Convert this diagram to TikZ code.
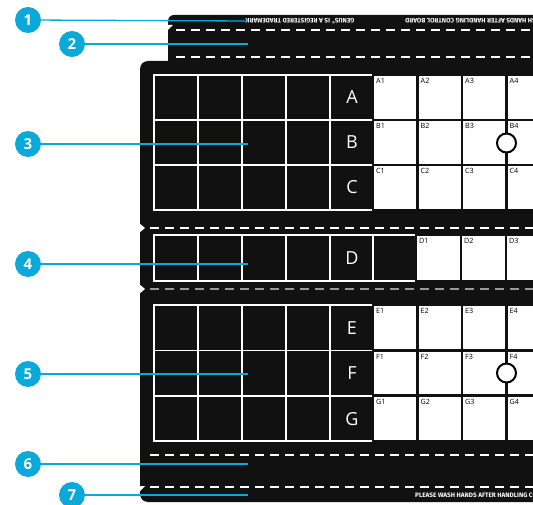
\documentclass[tikz,border=0pt]{standalone}
\usepackage{fontspec}
\setmainfont{Open Sans}
\newfontfamily\smallbold{Fira Sans}
\definecolor{boardblack}{HTML}{111111}
\definecolor{calloutblue}{HTML}{0AA9D9}
\begin{document}
\begin{tikzpicture}[x=1pt,y=-1pt,
  board/.style={fill=boardblack},
  gridline/.style={draw=white,line width=1.4pt},
  cut/.style={draw=white,line width=1.1pt,dash pattern=on 9pt off 6pt},
  graycut/.style={draw=gray!80,line width=1.1pt,dash pattern=on 9pt off 6pt},
  wcell/.style={fill=white,draw=boardblack,line width=2.6pt},
  rowlet/.style={text=white,font=\fontsize{18}{18}\selectfont,inner sep=0pt},
  cellab/.style={font=\fontsize{7.2}{7.2}\selectfont,anchor=north west,inner sep=0pt},
  callout/.style={circle,fill=calloutblue,text=white,minimum size=26pt,inner sep=0pt,font=\bfseries\fontsize{15}{15}\selectfont},
  leader/.style={draw=calloutblue,line width=1.3pt},
  hole/.style={circle,fill=white,draw=black,line width=2pt,minimum size=19pt,inner sep=0pt},
  tinytext/.style={text=white,font=\smallbold\bfseries\fontsize{6.4}{6.4}\selectfont,inner sep=0pt},
  notch/.style={fill=white}
]
\useasboundingbox (0,0) rectangle (533,505);
\begin{scope}
\clip (0,0) rectangle (533,505);
% top strip
\fill[board,rounded corners=6pt] (168,66) -- (168,15) -- (560,15) -- (560,66) -- cycle;
\fill[notch] (168,25) -- (173,25) -- (168,30) -- cycle;
\draw[cut] (176,30) -- (540,30);
\draw[cut] (176,57) -- (540,57);
\node[tinytext,rotate=180] (tm) at (300,21) {GENUS\textsuperscript{®} IS A REGISTERED TRADEMARK};
\node[tinytext,rotate=180,anchor=east] (wash1) at (405,21) {PLEASE WASH HANDS AFTER HANDLING CONTROL BOARD};
% main board
\fill[board,rounded corners=8pt] (140,61) -- (560,61) -- (560,502) -- (140,502) -- cycle;
\fill[notch] (139,223) -- (145,228) -- (139,233) -- cycle;
\fill[notch] (139,284) -- (145,289) -- (139,294) -- cycle;
\fill[notch] (140,486) -- (145,486) -- (140,491) -- cycle;
\draw[cut] (150,228) -- (540,228);
\draw[graycut] (150,289) -- (540,289);
\draw[cut] (150,455) -- (540,455);
\draw[cut] (150,487) -- (540,487);
% section A-C
\draw[gridline] (154,75) rectangle (373,210);
\foreach \x in {198,242,286,330} \draw[gridline] (\x,75) -- (\x,210);
\foreach \y in {120,165} \draw[gridline] (154,\y) -- (373,\y);
\foreach \r [count=\j from 0] in {A,B,C} {
  \node[rowlet] (let\r) at (352,{97.5+45*\j}) {\r};
  \foreach \i in {1,...,4} {
    \draw[wcell] ({373+44.5*(\i-1)},{75+45*\j}) rectangle ({373+44.5*\i},{120+45*\j});
    \node[cellab] (lab\r\i) at ({376+44.5*(\i-1)},{78.5+45*\j}) {\r\i};
  }
}
\node[hole] (holeB) at (506.5,143) {};
% section D
\draw[gridline] (154,235) rectangle (416,281);
\foreach \x in {198,242,286,330,373} \draw[gridline] (\x,235) -- (\x,281);
\node[rowlet] (letD) at (352,258) {D};
\foreach \i in {1,...,3} {
  \draw[wcell] ({416+45*(\i-1)},235) rectangle ({416+45*\i},281);
  \node[cellab] (labD\i) at ({419+45*(\i-1)},238.5) {D\i};
}
% section E-G
\draw[gridline] (154,305) rectangle (373,441);
\foreach \x in {198,242,286,330} \draw[gridline] (\x,305) -- (\x,441);
\foreach \y in {350.5,396} \draw[gridline] (154,\y) -- (373,\y);
\foreach \r [count=\j from 0] in {E,F,G} {
  \node[rowlet] (let\r) at (352,{328+45.3*\j}) {\r};
  \foreach \i in {1,...,4} {
    \draw[wcell] ({373+44.5*(\i-1)},{305+45.3*\j}) rectangle ({373+44.5*\i},{350.3+45.3*\j});
    \node[cellab] (lab\r\i) at ({376+44.5*(\i-1)},{308.5+45.3*\j}) {\r\i};
  }
}
\node[hole] (holeF) at (506.5,373) {};
\node[tinytext,anchor=west] (wash2) at (415,495) {PLEASE WASH HANDS AFTER HANDLING CONTROL BOARD};
\end{scope}
% callouts
\node[callout] (c1) at (28,20) {1};
\node[callout] (c2) at (72,44) {2};
\node[callout] (c3) at (28,144) {3};
\node[callout] (c4) at (28,264) {4};
\node[callout] (c5) at (28,374) {5};
\node[callout] (c6) at (28,464) {6};
\node[callout] (c7) at (72,495) {7};
\coordinate (e1) at (248,21);
\coordinate (e2) at (248,44);
\coordinate (e3) at (248,144);
\coordinate (e4) at (248,264);
\coordinate (e5) at (248,374);
\coordinate (e6) at (248,464);
\coordinate (e7) at (248,495);
\foreach \k in {1,...,7} \draw[leader] (c\k) -- (e\k);
\end{tikzpicture}
\end{document}
